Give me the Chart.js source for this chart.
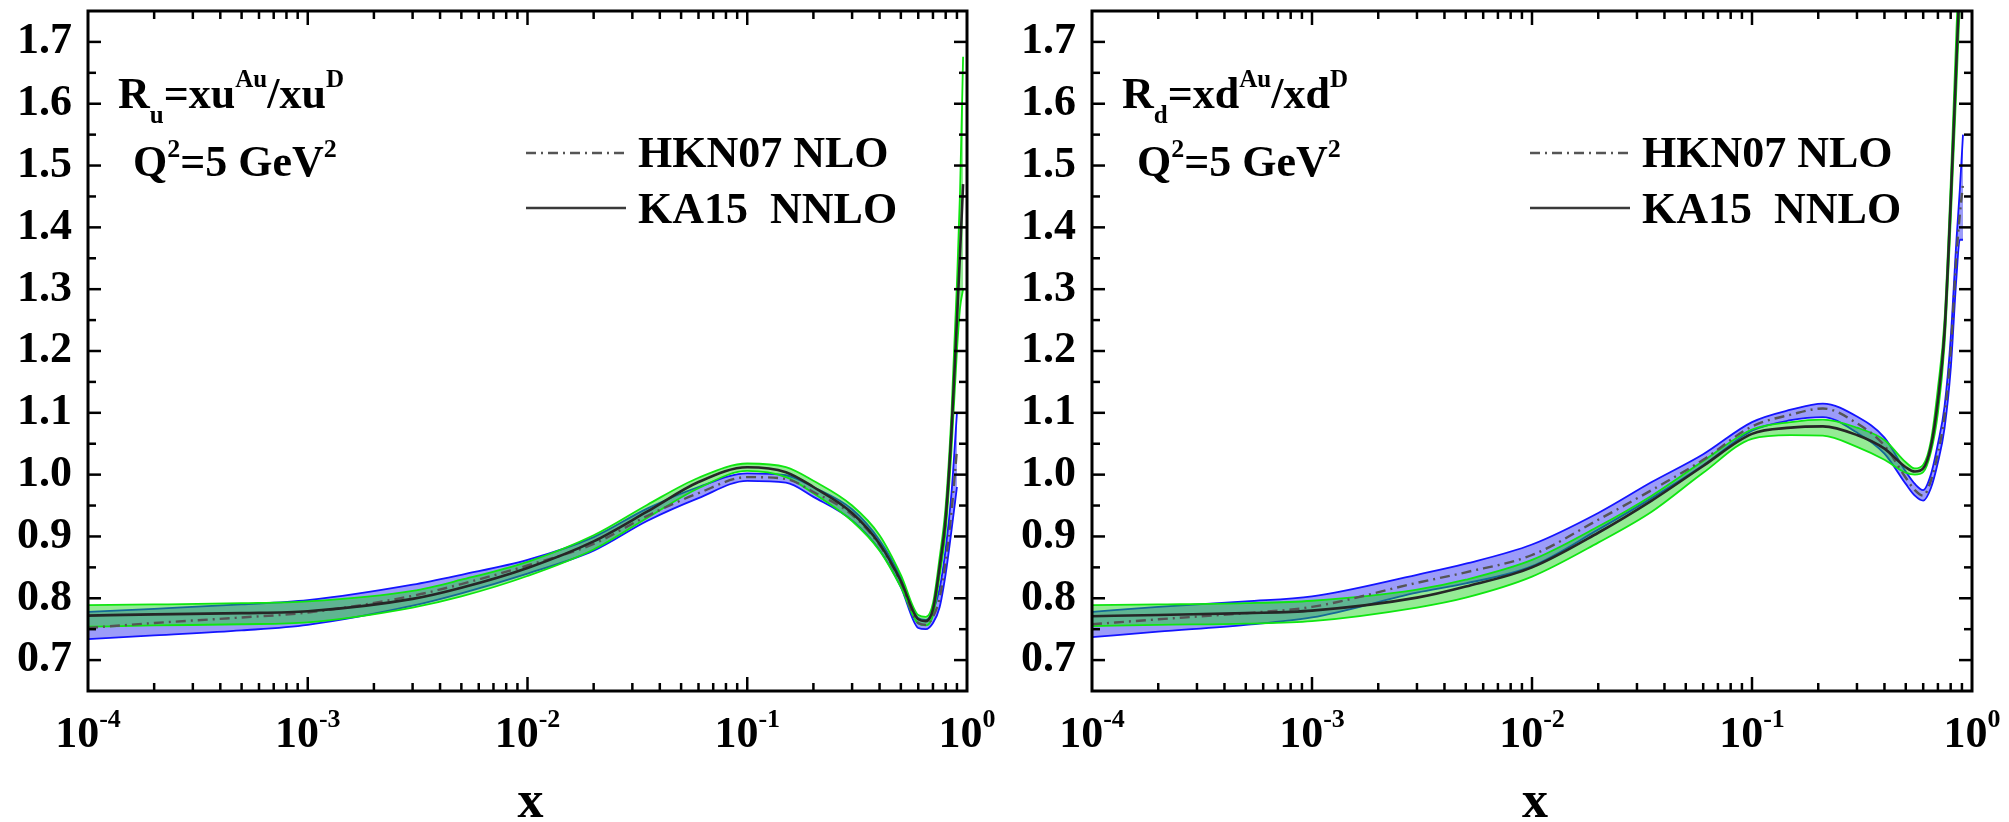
<!DOCTYPE html>
<html>
<head>
<meta charset="utf-8">
<script src="https://cdn.jsdelivr.net/npm/chart.js@4.4.1/dist/chart.umd.min.js"></script>
<style>
  html, body { margin: 0; padding: 0; background: #fff; overflow: hidden; }
  canvas { position: absolute; top: 0; }
  #chartU { left: 0; }
  #chartD { left: 1004px; }
</style>
</head>
<body>
<canvas id="chartU" width="1004" height="822"></canvas>
<canvas id="chartD" width="1005" height="822"></canvas>
<script>
// x values used for the left panel (u quark)
const xU = [1e-4, 2e-4, 5e-4, 1e-3, 3e-3, 5e-3, 1e-2, 2e-2, 3.5e-2, 6e-2, 0.1, 0.15, 0.2, 0.3, 0.4, 0.5, 0.6, 0.65, 0.7, 0.75, 0.8, 0.85, 0.9, 0.93, 0.96];
const kaU    = [0.772, 0.774, 0.776, 0.779, 0.799, 0.817, 0.849, 0.892, 0.940, 0.988, 1.012, 1.004, 0.980, 0.938, 0.888, 0.828, 0.766, 0.763, 0.782, 0.850, 0.930, 1.070, 1.250, 1.360, 1.470];
const kaULo  = [0.754, 0.756, 0.758, 0.761, 0.785, 0.803, 0.836, 0.879, 0.930, 0.978, 1.006, 0.996, 0.970, 0.925, 0.877, 0.818, 0.759, 0.756, 0.772, 0.835, 0.910, 1.040, 1.200, 1.270, 1.300];
const kaUHi  = [0.789, 0.790, 0.792, 0.795, 0.812, 0.830, 0.859, 0.902, 0.951, 0.995, 1.018, 1.012, 0.990, 0.950, 0.902, 0.838, 0.773, 0.770, 0.792, 0.865, 0.950, 1.100, 1.310, 1.460, 1.676];
const hknU   = [0.752, 0.760, 0.769, 0.777, 0.804, 0.823, 0.853, 0.888, 0.933, 0.970, 0.996, 0.993, 0.972, 0.935, 0.886, 0.826, 0.760, 0.757, 0.770, 0.800, 0.860, 0.940, 1.040, null, null];
const hknULo = [0.734, 0.740, 0.748, 0.757, 0.788, 0.808, 0.840, 0.877, 0.925, 0.962, 0.990, 0.987, 0.964, 0.926, 0.878, 0.818, 0.752, 0.750, 0.760, 0.785, 0.840, 0.910, 0.980, null, null];
const hknUHi = [0.778, 0.783, 0.790, 0.797, 0.822, 0.838, 0.862, 0.899, 0.945, 0.980, 1.002, 0.999, 0.980, 0.944, 0.894, 0.834, 0.768, 0.765, 0.780, 0.815, 0.880, 0.970, 1.100, null, null];

// x values used for the right panel (d quark)
const xD = [1e-4, 2e-4, 5e-4, 1e-3, 3e-3, 5e-3, 1e-2, 2e-2, 3.5e-2, 6e-2, 0.1, 0.15, 0.21, 0.3, 0.4, 0.5, 0.55, 0.6, 0.65, 0.7, 0.75, 0.8, 0.85, 0.88, 0.91];
const kaD    = [0.771, 0.773, 0.776, 0.780, 0.801, 0.819, 0.850, 0.906, 0.958, 1.014, 1.066, 1.076, 1.078, 1.064, 1.042, 1.012, 1.005, 1.010, 1.045, 1.120, 1.230, 1.440, 1.670, 1.800, 1.900];
const kaDLo  = [0.755, 0.757, 0.759, 0.763, 0.785, 0.801, 0.835, 0.890, 0.940, 1.003, 1.058, 1.064, 1.063, 1.045, 1.024, 1.003, 1.000, 1.004, 1.036, 1.100, 1.210, 1.410, 1.630, 1.760, 1.850];
const kaDHi  = [0.789, 0.790, 0.792, 0.796, 0.814, 0.830, 0.862, 0.916, 0.966, 1.022, 1.073, 1.085, 1.089, 1.076, 1.056, 1.020, 1.010, 1.016, 1.054, 1.140, 1.250, 1.470, 1.720, 1.850, 1.950];
const hknD   = [0.758, 0.766, 0.776, 0.786, 0.825, 0.842, 0.870, 0.927, 0.975, 1.024, 1.078, 1.097, 1.107, 1.083, 1.047, 0.995, 0.975, 0.966, 0.990, 1.035, 1.095, 1.200, 1.355, 1.420, 1.470];
const hknDLo = [0.737, 0.746, 0.757, 0.769, 0.809, 0.824, 0.852, 0.911, 0.962, 1.015, 1.071, 1.088, 1.093, 1.068, 1.034, 0.985, 0.966, 0.958, 0.978, 1.020, 1.075, 1.170, 1.320, 1.380, 1.380];
const hknDHi = [0.778, 0.786, 0.795, 0.803, 0.838, 0.856, 0.887, 0.938, 0.988, 1.033, 1.085, 1.105, 1.115, 1.094, 1.060, 1.005, 0.985, 0.975, 1.000, 1.050, 1.110, 1.220, 1.380, 1.460, 1.550];

// axis ticks
const yTicks = [0.7, 0.8, 0.9, 1.0, 1.1, 1.2, 1.3, 1.4, 1.5, 1.6, 1.7];
const xTickPowers = [-4, -3, -2, -1, 0];
const legendNames = ['HKN07 NLO', 'KA15  NNLO'];

const FONT = '"Liberation Serif", "Times New Roman", serif';
const font = size => 'bold ' + size + 'px ' + FONT;

// pair x and y into points, skip the missing ones
const pts = (xs, ys) => xs.map((x, i) => ({ x: x, y: ys[i] })).filter(p => p.y !== null);

function makeDatasets(xs, ka, kaLo, kaHi, hkn, hknLo, hknHi) {
  return [
    { label: 'KA15 NNLO', data: pts(xs, ka), borderColor: '#262626', borderWidth: 2.6, order: 0 },
    { label: 'HKN07 NLO', data: pts(xs, hkn), borderColor: '#555555', borderWidth: 2.4, borderDash: [10, 5, 2, 5], order: 1 },
    { label: 'KA15 low', data: pts(xs, kaLo), borderColor: '#10e610', borderWidth: 1.8, order: 2 },
    { label: 'KA15 high', data: pts(xs, kaHi), borderColor: '#10e610', borderWidth: 1.8, order: 3,
      fill: '-1', backgroundColor: 'rgba(20, 210, 20, 0.45)' },
    { label: 'HKN07 low', data: pts(xs, hknLo), borderColor: '#1414ff', borderWidth: 1.8, order: 4 },
    { label: 'HKN07 high', data: pts(xs, hknHi), borderColor: '#1414ff', borderWidth: 1.8, order: 5,
      fill: '-1', backgroundColor: 'rgba(20, 20, 240, 0.42)' }
  ];
}

// draw a row of text pieces, each with its own size and vertical shift
function drawRuns(ctx, x, y, runs) {
  runs.forEach(r => {
    ctx.font = font(r.size);
    ctx.fillText(r.t, x, y + (r.dy || 0));
    x += ctx.measureText(r.t).width;
  });
}

// frame, inward ticks, x labels with exponents, legend and the panel text
const panelDeco = {
  id: 'panelDeco',
  afterDraw(chart, args, opts) {
    const { ctx, chartArea: a, scales: { x, y } } = chart;
    ctx.save();
    ctx.strokeStyle = '#000';
    ctx.fillStyle = '#000';
    const seg = (x1, y1, x2, y2) => { ctx.beginPath(); ctx.moveTo(x1, y1); ctx.lineTo(x2, y2); ctx.stroke(); };

    ctx.lineWidth = 2.5;
    xTickPowers.slice(0, -1).forEach(p => {
      for (let m = 1; m < 10; m++) {
        if (m === 1 && p === xTickPowers[0]) continue;
        const px = x.getPixelForValue(m * Math.pow(10, p));
        const len = m === 1 ? 14 : 8;
        seg(px, a.bottom, px, a.bottom - len);
        seg(px, a.top, px, a.top + len);
      }
    });
    yTicks.forEach((v, i) => {
      const py = y.getPixelForValue(v);
      seg(a.left, py, a.left + 13, py);
      seg(a.right, py, a.right - 13, py);
      if (i < yTicks.length - 1) {
        const pm = y.getPixelForValue((v + yTicks[i + 1]) / 2);
        seg(a.left, pm, a.left + 8, pm);
        seg(a.right, pm, a.right - 8, pm);
      }
    });

    ctx.lineWidth = 3;
    ctx.strokeRect(a.left, a.top, a.right - a.left, a.bottom - a.top);

    // x tick labels as 10 with a raised exponent
    ctx.textAlign = 'left';
    ctx.textBaseline = 'alphabetic';
    xTickPowers.forEach(p => {
      const px = x.getPixelForValue(Math.pow(10, p));
      ctx.font = font(44);
      const w1 = ctx.measureText('10').width;
      ctx.font = font(26);
      const w2 = ctx.measureText(String(p)).width;
      drawRuns(ctx, px - (w1 + w2) / 2, 747, [{ t: '10', size: 44 }, { t: String(p), size: 26, dy: -20 }]);
    });

    // axis title
    ctx.font = font(52);
    ctx.textAlign = 'center';
    ctx.fillText('x', (a.left + a.right) / 2 + 3, 817);
    ctx.textAlign = 'left';

    // legend
    ctx.strokeStyle = '#555555';
    ctx.lineWidth = 2.4;
    ctx.setLineDash([10, 5, 2, 5]);
    seg(526, 153, 626, 153);
    ctx.setLineDash([]);
    ctx.strokeStyle = '#3a3a3a';
    seg(526, 208, 626, 208);
    ctx.font = font(44);
    ctx.fillText(legendNames[0], 638, 167);
    ctx.fillText(legendNames[1], 638, 223);

    // ratio label and scale
    const q = opts.flavor;
    drawRuns(ctx, 118, 108, [
      { t: 'R', size: 44 }, { t: q, size: 25, dy: 15 }, { t: '=x' + q, size: 44 },
      { t: 'Au', size: 25, dy: -21 }, { t: '/x' + q, size: 44 }, { t: 'D', size: 25, dy: -21 }
    ]);
    drawRuns(ctx, 133, 176, [
      { t: 'Q', size: 44 }, { t: '2', size: 26, dy: -19 }, { t: '=5 GeV', size: 44 }, { t: '2', size: 26, dy: -19 }
    ]);
    ctx.restore();
  }
};

function makeChart(id, flavor, datasets) {
  return new Chart(document.getElementById(id), {
    type: 'line',
    data: { datasets: datasets },
    options: {
      responsive: false,
      animation: false,
      layout: { padding: { top: 11, right: 37, left: 0, bottom: 0 } },
      elements: {
        point: { radius: 0 },
        line: { cubicInterpolationMode: 'monotone', fill: false }
      },
      plugins: {
        legend: { display: false },
        tooltip: { enabled: false },
        panelDeco: { flavor: flavor }
      },
      scales: {
        x: {
          type: 'logarithmic', min: 1e-4, max: 1,
          ticks: { display: false },
          grid: { display: false, drawTicks: false },
          border: { display: false },
          afterFit: s => { s.height = 131; s.paddingLeft = 0; s.paddingRight = 0; }
        },
        y: {
          type: 'linear', min: 0.65, max: 1.75,
          afterBuildTicks: s => { s.ticks = yTicks.map(v => ({ value: v })); },
          ticks: {
            autoSkip: false, padding: 16, color: '#000',
            font: { family: FONT, weight: 'bold', size: 44 },
            callback: v => Number(v).toFixed(1)
          },
          grid: { display: false, drawTicks: false },
          border: { display: false },
          afterFit: s => { s.width = 88; s.paddingTop = 0; s.paddingBottom = 0; }
        }
      }
    },
    plugins: [panelDeco]
  });
}

makeChart('chartU', 'u', makeDatasets(xU, kaU, kaULo, kaUHi, hknU, hknULo, hknUHi));
makeChart('chartD', 'd', makeDatasets(xD, kaD, kaDLo, kaDHi, hknD, hknDLo, hknDHi));
</script>
</body>
</html>
